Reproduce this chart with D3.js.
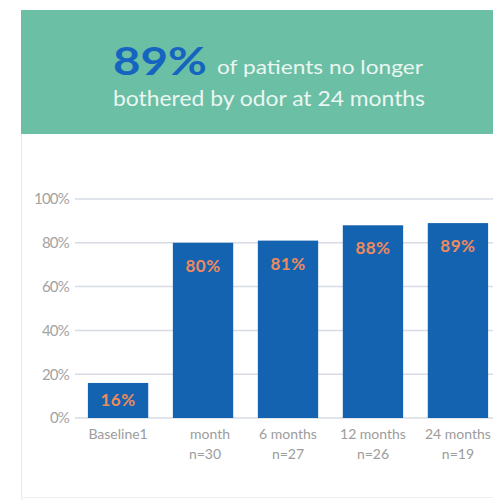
<!DOCTYPE html>
<html><head><meta charset="utf-8">
<script src="https://cdn.jsdelivr.net/npm/d3@7"></script>
<style>body{margin:0;background:#fff;}svg{display:block;font-family:Lato,"Open Sans",sans-serif;}</style>
</head><body>
<script>
const categories = ["Baseline1", "month", "6 months", "12 months", "24 months"];
const subLabels = ["", "n=30", "n=27", "n=26", "n=19"];
const values = [16, 80, 81, 88, 89];
const valueLabels = ["16%", "80%", "81%", "88%", "89%"];
const yTicks = [0, 20, 40, 60, 80, 100];

const W = 493, H = 500;
const svg = d3.select("body").append("svg").attr("width", W).attr("height", H);

// banner
svg.append("rect").attr("x", 21).attr("y", 10).attr("width", W - 21).attr("height", 124).attr("fill", "#6bbfa5");
svg.append("text").attr("x", 113).attr("y", 75).attr("font-size", 39).attr("font-weight", 700).attr("fill", "#1565c0")
  .attr("textLength", 94).attr("lengthAdjust", "spacingAndGlyphs").text("89%");
svg.append("text").attr("x", 217).attr("y", 74).attr("font-size", 20).attr("fill", "#eaf6f1")
  .attr("textLength", 206).attr("lengthAdjust", "spacingAndGlyphs").text("of patients no longer");
svg.append("text").attr("x", 113).attr("y", 106).attr("font-size", 21).attr("fill", "#eaf6f1")
  .attr("textLength", 312).attr("lengthAdjust", "spacingAndGlyphs").text("bothered by odor at 24 months");

// panel border
svg.append("line").attr("x1", 21.5).attr("x2", 21.5).attr("y1", 134).attr("y2", H).attr("stroke", "#e4ecee");
svg.append("line").attr("x1", 21).attr("x2", W).attr("y1", 497.5).attr("y2", 497.5).attr("stroke", "#eef0f2");

const y = d3.scaleLinear().domain([0, 100]).range([418, 199]);
const x = d3.scaleBand().domain(categories).range([76, 500]).paddingInner(0.29).paddingOuter(0.14);

// grid
const grid = svg.append("g");
yTicks.forEach(t => {
  grid.append("line").attr("x1", 75).attr("x2", W).attr("y1", y(t)).attr("y2", y(t)).attr("stroke", "#d8dbe6").attr("stroke-width", 1.5);
});
const yAxis = d3.axisLeft(y).tickValues(yTicks).tickFormat(d => d + "%").tickSize(0).tickPadding(0);
const ya = svg.append("g").attr("transform", "translate(69,0)").call(yAxis);
ya.select(".domain").remove();
ya.selectAll("text").attr("font-size", 15).attr("fill", "#a3a3a3").attr("font-family", "Lato, sans-serif").style("letter-spacing", "-0.8px");

// bars
svg.selectAll("rect.bar").data(values).enter().append("rect").attr("class", "bar")
  .attr("x", (d, i) => x(categories[i])).attr("width", x.bandwidth())
  .attr("y", d => y(d)).attr("height", d => y(0) - y(d)).attr("fill", "#1463b0");

svg.selectAll("text.val").data(values).enter().append("text").attr("class", "val")
  .attr("x", (d, i) => x(categories[i]) + x.bandwidth() / 2)
  .attr("y", d => d < 30 ? y(d) + (y(0) - y(d)) / 2 + 6 : y(d) + 29)
  .attr("text-anchor", "middle").attr("font-size", 17).attr("font-weight", 700).attr("fill", "#ee8a5e").style("letter-spacing", "0.5px")
  .text((d, i) => valueLabels[i]);

// x labels
const xa = svg.append("g");
categories.forEach((c, i) => {
  const cx = x(c) + x.bandwidth() / 2;
  xa.append("text").attr("x", cx + (i === 1 ? 7 : 0)).attr("y", 439).attr("text-anchor", "middle").attr("font-size", 14).attr("fill", "#9c9c9c").text(c);
  if (subLabels[i]) xa.append("text").attr("x", cx + (i === 1 ? 2 : 0)).attr("y", 459).attr("text-anchor", "middle").attr("font-size", 14).attr("fill", "#9c9c9c").text(subLabels[i]);
});
</script>
</body></html>
